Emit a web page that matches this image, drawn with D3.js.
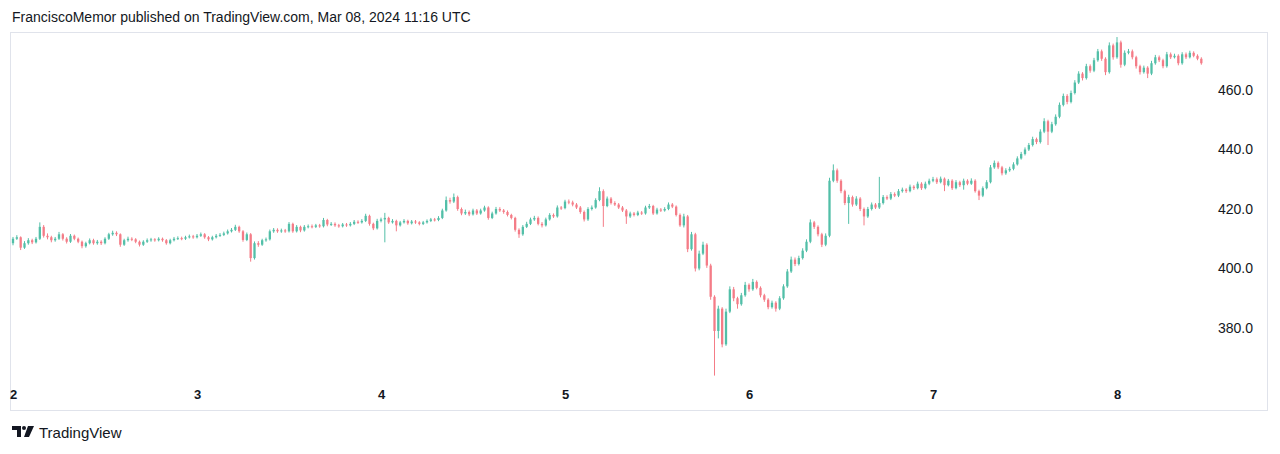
<!DOCTYPE html>
<html>
<head>
<meta charset="utf-8">
<script src="https://cdn.jsdelivr.net/npm/d3@7"></script>
<style>
  html, body { margin: 0; padding: 0; background: #ffffff; }
  svg { display: block; }
</style>
</head>
<body>
<svg id="chart" width="1280" height="454"></svg>
<script>
// ---------------- DATA (30-minute candles, starting Mar 2 2024 00:00 UTC) ----------------
const title = "FranciscoMemor published on TradingView.com, Mar 08, 2024 11:16 UTC";
const startTime = Date.UTC(2024, 2, 2, 0, 0);
const candleMinutes = 30;
const firstOpen = 408.5;

const closes = [
  410,410.5,407,408.5,409.5,408.8,410,414,411,410.5,409.5,410,411.5,410,409,411,410,409,407.5,408.5,
  409.5,408.5,409,408.5,410,411.5,412,411.5,408,409.5,410,409.8,409,408,409,409.5,409.8,409.5,410,409.5,
  408.5,409.5,410,410.2,410,410.5,410.8,410.5,
  411,411.5,410.5,409.8,410.5,411,411.3,411.8,412.5,413,414,412.5,409.6,411.5,403.5,408.5,408,409.5,409.8,412.5,
  413,412.5,412.8,412.5,415,412.5,414,412.8,414,414.2,414,414.5,414.2,416.3,414.8,415,414.5,414.2,414.8,414.5,
  415,415.7,415.5,416,417.7,415,413.5,416,
  416.5,417,415.5,416,414.5,415.5,416,415.2,415.8,415.5,415,415.5,416,416.5,416.3,417,419.5,423,422.5,424,
  420,418.5,419,418.2,419.5,418.5,419.5,420.5,417,418.5,420,419.5,419,418,417,413,411.5,414,415,416.5,
  417,415,414.5,416.5,418,417.5,420.5,420.3,
  422.5,422.2,421.5,420.5,419,416.5,420,420.5,423,426,421,423.5,422,421.5,420.5,419.5,417.5,418.5,418,418.8,
  418.5,420.5,421,418.5,419.8,419.5,420,421.5,420.8,418,414.5,417.5,406.5,411.5,400,405,408,401,390.5,379,
  386.5,374.5,385.5,393,390,388,391,394.5,
  393,395.5,393.5,391,389.5,387,388.5,386.5,390,394,399,403,401.5,403.5,406,409,415.5,414,411.5,408,
  411,429.5,433,429.5,426,422,424,421.5,423.5,420,417.5,420,421.5,420.5,422,424,423.5,425,424.5,426,
  426.5,426,427.5,427,428.5,427,428.5,429.5,
  430,429,430.2,428,429.5,427,429,428,429.5,428.5,429.5,426,424.5,427,429,434,435.5,434,432,433,
  433.5,435,437,438.5,440,441.5,443.5,442.5,446,449.5,446,448.5,451,455,458,456,459,462.5,465.5,464,
  468,466.5,470,473,470.5,466,475,471,
  476,468.5,472.5,473,471,468,466,467.5,465.5,469,471,470,468,472,471,471.5,469,472,471,472.5,
  471.5,470.5,469
];

const highs = [
  410.6,411.2,410.8,409.2,410.2,410,410.6,415.5,414.6,411.8,411,410.6,412.3,411.9,410.5,411.6,411.4,410.4,409.4,409,
  410.1,410,409.6,409.5,410.5,412,412.7,412.5,411.8,410,410.7,410.5,410.2,409.4,409.5,410.1,410.3,410.2,410.5,410.4,
  409.9,410,410.6,410.8,410.7,411,411.4,411.3,
  411.6,412.1,411.9,410.9,411,411.6,411.9,412.4,413.1,413.6,414.7,414.4,412.9,412.1,411.9,409.1,409.2,410,410.4,413.1,
  413.6,413.5,413.4,413.3,415.6,415.4,414.6,414.4,414.6,414.8,414.8,415,415,417,416.7,415.6,415.5,415,415.3,415.3,
  415.6,416.3,416.2,416.6,418.4,418.1,415.4,416.7,
  417.1,418.7,417.4,416.6,416.4,416,416.6,416.4,416.3,416.3,415.9,416,416.5,417,417,417.6,420.1,424.2,423.8,425.2,
  424.5,420.5,419.8,419.5,420.1,420,420.1,421.1,420.9,419.1,420.7,420.6,420,419.5,418.4,417.4,413.5,414.6,415.7,417.1,
  417.7,417.5,415.6,417.1,418.6,418.5,421.2,421,
  423.1,423.2,422.8,422,421,419.5,420.6,421.2,423.6,427.3,426.6,424.2,424,422.6,422,421,420,419.1,419,419.4,
  419.3,421.1,421.7,421.4,420.4,420.3,420.6,422.2,422,421.2,418.5,418.4,418,412.3,412,406,409,408.5,401.6,391,
  387.5,387,386.5,394,393.8,390.5,391.8,395.5,
  395,396.5,396,394,391.5,390,389.2,389,390.7,394.7,399.8,404,403.7,404.3,406.8,409.8,416.5,416,414.5,412,
  411.8,430.5,435,433.6,430,426.5,424.8,424.5,424.3,424,420.5,420.7,422.2,422,430.8,424.7,424.6,425.7,425.6,426.7,
  427.2,427,428.2,428,429.2,429,429.2,430.2,
  430.8,430.6,430.9,430.6,430.1,430,429.7,429.5,430.2,430,430.3,430,426.5,427.6,429.7,434.8,436.3,436,434.5,433.7,
  434.2,435.7,437.7,439.2,440.7,442.2,444.3,444,446.8,450.5,450,449.3,451.8,455.8,458.8,458.6,459.8,463.3,466.3,466,
  468.8,468.6,470.8,473.8,473.6,471,476,475.6,
  477.8,476.6,473.3,473.8,473.6,471.5,468.5,468.2,468,469.8,471.8,471.6,470.5,472.8,472.6,472.2,472,472.7,472.6,473.2,
  473,472,471
];

const lows = [
  407.8,409.6,406.2,406.6,408,408.2,408.4,409.6,410.4,409.8,408.8,409,409.6,409.4,408.4,408.6,409.5,408.5,406.8,407,
  408.1,408,408,407.9,408.1,409.6,411,410.9,407.3,407.6,409,409.2,408.5,407.4,407.6,408.6,409,409,409.1,409,
  408,408.1,409.1,409.6,409.5,409.6,410.1,410,
  410.1,410.6,410,409.2,409.4,410.1,410.6,410.9,411.4,412.1,412.6,412,409,409.2,402.3,403,407.3,407.6,409,409.4,
  412,412,412,412,412.1,412,412.1,412.2,412.4,413.5,413.5,413.6,413.7,413.8,414.2,414.3,414,413.7,413.8,414,
  414.1,414.6,415,415.1,415.6,414.4,412.9,413.1,
  415.5,408.8,415,415.1,412.5,414.1,415.1,414.7,414.8,415,414.5,414.6,415.1,415.6,415.8,415.9,416.6,419.1,421.8,422,
  419.4,417.9,418,417.6,417.8,418,418.1,419.1,416.4,416.6,418.1,419,418.4,417.5,416.5,412.4,410.3,411,413.6,414.6,
  416,414.5,413.8,414.1,416.1,417,417.1,419.7,
  419.9,421.6,420.9,420,418.4,415.8,416,419.5,420.1,422.6,414,420.6,421.5,421,420,419,415,417,417.5,417.6,
  418,418.1,420,418,418.1,419,419.1,419.6,420.3,417.5,414,413.8,405.5,406,399,399.4,404.5,400.2,389.5,364,
  376.5,373.5,374,385,389,386.5,387.5,390.5,
  392.2,392.5,393,390.3,388.8,386.3,386.5,385.5,386,389.5,393.5,398.5,400.8,401,403,405.5,408.5,413.3,410.8,407.2,
  407.5,410.5,429,428.8,425.3,421.3,415,420.8,421,419.3,414.5,417,419.5,420,420,421.5,423,423,424,424,
  425.5,425.4,425.6,426.4,426.6,426.4,426.6,428,
  429,428.4,428.6,426,427.6,426.4,426.6,427.4,426.5,428,428.1,425.5,423,424,426.6,428.6,433.5,433.4,431.3,431.5,
  432.5,433,434.6,436.6,438,439.5,441,441.8,442,445.5,441.5,445.5,448,450.5,454.5,455.2,455.5,458.5,462,463.2,
  463.5,465.8,466,469.5,469.8,465,465.5,470.2,
  470.5,467.5,468,472,470.3,467.2,465.2,465.5,464,465,468.5,469.4,467.3,467.5,470.4,470.6,468.3,468.5,470.4,470.6,
  471,470,468.5
];

const priceTicks = [380, 400, 420, 440, 460];
const dayTicks = [2, 3, 4, 5, 6, 7, 8];

// ---------------- BUILD ----------------
const candles = closes.map((c, i) => ({
  t: new Date(startTime + i * candleMinutes * 60000),
  o: i === 0 ? firstOpen : closes[i - 1],
  h: highs[i],
  l: lows[i],
  c: c
}));

const svg = d3.select("#chart");
const upColor = "#52bfa8";
const downColor = "#f47c87";
const fontFam = "'Liberation Sans', Arial, sans-serif";

const x = d3.scaleUtc()
  .domain([new Date(Date.UTC(2024, 2, 2)), new Date(Date.UTC(2024, 2, 8))])
  .range([13, 1117]);
const y = d3.scaleLinear().domain([380, 460]).range([328, 90]);

// title
svg.append("text")
  .attr("x", 12).attr("y", 22)
  .attr("font-family", fontFam).attr("font-size", 14)
  .attr("fill", "#131722")
  .text(title);

// frame
svg.append("rect")
  .attr("x", 10.5).attr("y", 32.5).attr("width", 1257).attr("height", 378)
  .attr("fill", "none").attr("stroke", "#e0e3eb").attr("stroke-width", 1);

// candles
const bodyW = 2.3;
const g = svg.append("g");
g.selectAll("line.wick").data(candles).join("line")
  .attr("class", "wick")
  .attr("x1", d => x(d.t)).attr("x2", d => x(d.t))
  .attr("y1", d => y(d.h)).attr("y2", d => y(d.l))
  .attr("stroke", d => d.c >= d.o ? upColor : downColor)
  .attr("stroke-width", 1);
g.selectAll("rect.body").data(candles).join("rect")
  .attr("class", "body")
  .attr("x", d => x(d.t) - bodyW / 2)
  .attr("width", bodyW)
  .attr("y", d => y(Math.max(d.o, d.c)))
  .attr("height", d => Math.max(1, Math.abs(y(d.o) - y(d.c))))
  .attr("fill", d => d.c >= d.o ? upColor : downColor);

// price axis (right)
const yAxis = d3.axisRight(y).tickValues(priceTicks).tickSize(0).tickPadding(0)
  .tickFormat(d3.format(".1f"));
const ya = svg.append("g").attr("transform", "translate(1218,0)").call(yAxis);
ya.select(".domain").remove();
ya.selectAll("text").attr("font-family", fontFam).attr("font-size", 14).attr("fill", "#131722");

// time axis (bottom)
const xAxis = d3.axisBottom(x)
  .tickValues(dayTicks.map(dd => new Date(Date.UTC(2024, 2, dd))))
  .tickSize(0).tickPadding(0)
  .tickFormat(d3.utcFormat("%-d"));
const xa = svg.append("g").attr("transform", "translate(0,390)").call(xAxis);
xa.select(".domain").remove();
xa.selectAll("text").attr("font-family", fontFam).attr("font-size", 13)
  .attr("font-weight", "bold").attr("fill", "#131722");

// TradingView logo + wordmark
const logo = svg.append("g").attr("transform", "translate(12,426)");
logo.append("path").attr("d", "M0,0 H9 V11 H5 V4 H0 Z").attr("fill", "#131722");
logo.append("circle").attr("cx", 12).attr("cy", 2).attr("r", 2).attr("fill", "#131722");
logo.append("path").attr("d", "M16,0 H22 L17,11 H12 Z").attr("fill", "#131722");
svg.append("text")
  .attr("x", 39).attr("y", 438)
  .attr("font-family", fontFam).attr("font-size", 15)
  .attr("fill", "#131722")
  .text("TradingView");
</script>
</body>
</html>
